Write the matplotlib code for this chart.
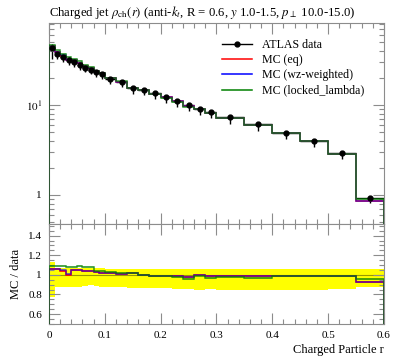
import matplotlib
matplotlib.use("Agg")
import matplotlib.pyplot as plt
from matplotlib.ticker import MultipleLocator, FixedLocator, FuncFormatter, LogLocator, NullFormatter
from matplotlib.lines import Line2D
import numpy as np

plt.rcParams['font.family'] = ['Liberation Serif', 'DejaVu Serif']
plt.rcParams['mathtext.fontset'] = 'stix'

# bin edges of charged particle r
edges = [0.0, 0.01, 0.02, 0.03, 0.04, 0.05, 0.06, 0.07, 0.08, 0.09, 0.10,
         0.12, 0.14, 0.16, 0.18, 0.20, 0.22, 0.24, 0.26, 0.28, 0.30,
         0.35, 0.40, 0.45, 0.50, 0.55, 0.60]

# ATLAS data, rho_ch(r)
data_vals = [42.5, 37.0, 34.0, 31.5, 30.0, 28.0, 26.0, 24.5, 23.0, 22.0,
             19.5, 18.0, 15.3, 14.7, 13.5, 12.2, 11.1, 10.0, 9.0, 8.3,
             7.3, 6.1, 4.9, 4.0, 2.9, 0.93]
# relative errors (up / down)
err_up = [0.13, 0.07, 0.07, 0.07, 0.07, 0.07, 0.07, 0.07, 0.07, 0.07,
          0.06, 0.06, 0.06, 0.06, 0.06, 0.06, 0.06, 0.06, 0.06, 0.06,
          0.06, 0.06, 0.06, 0.06, 0.06, 0.06]
err_dn = [0.23, 0.12, 0.12, 0.12, 0.12, 0.12, 0.11, 0.10, 0.11, 0.12,
          0.12, 0.12, 0.13, 0.13, 0.13, 0.13, 0.14, 0.14, 0.15, 0.14,
          0.15, 0.15, 0.15, 0.15, 0.14, 0.12]

# MC / data ratios
ratio_eq = [1.06, 1.06, 1.04, 1.00, 1.053, 1.053, 1.043, 1.043, 1.027, 1.02,
            1.017, 1.01, 1.02, 1.0, 0.987, 0.993, 0.987, 0.977, 1.0, 0.987,
            0.987, 0.987, 0.993, 0.993, 0.983, 0.927]
ratio_wz = [1.06, 1.06, 1.05, 1.01, 1.053, 1.053, 1.043, 1.043, 1.027, 1.02,
            1.017, 1.01, 1.02, 1.0, 0.987, 0.993, 0.987, 0.977, 1.0, 0.987,
            0.987, 0.987, 0.993, 0.993, 0.983, 0.927]
ratio_locked = [1.093, 1.09, 1.09, 1.083, 1.077, 1.093, 1.077, 1.077, 1.043, 1.037,
                1.027, 1.017, 1.017, 1.0, 0.983, 0.983, 0.977, 0.96, 0.993, 0.97,
                0.977, 0.97, 0.987, 0.993, 0.987, 0.96]

labels = ['ATLAS data', 'MC (eq)', 'MC (wz-weighted)', 'MC (locked_lambda)']

edges = np.array(edges)
data_vals = np.array(data_vals)
centers = 0.5 * (edges[:-1] + edges[1:])
halfw = 0.5 * np.diff(edges)

fig = plt.figure(figsize=(3.97, 3.58), dpi=100)
ax = fig.add_axes([0.1234, 0.3743, 0.8438, 0.5615])
rax = fig.add_axes([0.1234, 0.095, 0.8438, 0.2793], sharex=ax)

grey = '#8c8c8c'


def step(a, vals, color, alpha=1.0, band=0.02):
    vals = np.asarray(vals)
    a.fill_between(edges, np.append(vals * (1 - band), vals[-1] * (1 - band)),
                   np.append(vals * (1 + band), vals[-1] * (1 + band)),
                   step='post', color=color, alpha=0.2, lw=0, zorder=2)
    a.stairs(vals, edges, color=color, lw=1.1, alpha=alpha, zorder=3)


mc = [(ratio_eq, 'red', 1.0), (ratio_wz, 'blue', 0.6), (ratio_locked, 'green', 0.8)]

# main panel
ax.errorbar(centers, data_vals, xerr=halfw,
            yerr=[data_vals * np.array(err_dn), data_vals * np.array(err_up)],
            fmt='none', ecolor='black', lw=1.0, capsize=0, zorder=1)
for r, c, al in mc:
    step(ax, np.array(r) * data_vals, c, al)
ax.plot(centers, data_vals, 'o', color='black', ms=3.5, zorder=4)

ax.set_yscale('log')
ax.set_ylim(0.476, 81.5)
ax.set_xlim(0, 0.6)
ax.yaxis.set_major_locator(FixedLocator([1, 10]))
ax.yaxis.set_major_formatter(FuncFormatter(lambda v, p: '1' if v == 1 else r'$10^{1}$'))
ax.yaxis.set_minor_locator(LogLocator(base=10, subs=np.arange(2, 10)))
ax.yaxis.set_minor_formatter(NullFormatter())
ax.tick_params(axis='x', labelbottom=False)
ax.set_title(r'Charged jet $\rho_{\rm ch}(r)$ (anti-$k_t$, R = 0.6, $y$ 1.0-1.5, $p_\perp$ 10.0-15.0)',
             fontsize=9.2, loc='left', pad=5)

handles = [Line2D([], [], color='black', marker='o', ms=3.5, lw=1.0),
           Line2D([], [], color='red', lw=1.1),
           Line2D([], [], color='blue', lw=1.1),
           Line2D([], [], color='green', lw=1.1)]
ax.legend(handles, labels, loc='upper right', bbox_to_anchor=(0.975, 0.975), frameon=False,
          fontsize=8.6, handlelength=2.5, handletextpad=0.9, labelspacing=0.28)

# ratio panel
rax.fill_between(edges, np.append(1 - np.array(err_dn), 1 - err_dn[-1]),
                 np.append(1 + np.array(err_up), 1 + err_up[-1]),
                 step='post', color='yellow', lw=0, zorder=1)
rax.axhline(1.0, color='black', lw=0.8, alpha=0.4, zorder=1.5)
for r, c, al in mc:
    step(rax, r, c, al, band=0.01)
rax.set_ylim(0.498, 1.519)
rax.set_xlim(0, 0.6)
rax.yaxis.set_major_locator(MultipleLocator(0.2))
rax.yaxis.set_minor_locator(MultipleLocator(0.05))
rax.yaxis.set_major_formatter(FuncFormatter(lambda v, p: '1' if abs(v - 1) < 1e-6 else f'{v:.1f}'))
rax.xaxis.set_major_locator(MultipleLocator(0.1))
rax.xaxis.set_minor_locator(MultipleLocator(0.02))
rax.xaxis.set_major_formatter(FuncFormatter(lambda v, p: '0' if abs(v) < 1e-9 else f'{v:.1f}'))
rax.set_ylabel('MC / data', fontsize=9)
rax.set_xlabel('Charged Particle r', fontsize=9, loc='right', labelpad=3)

for a in (ax, rax):
    a.tick_params(which='both', direction='in', top=True, right=True, colors='black',
                  labelsize=8, width=0.8, pad=5)
    a.tick_params(which='major', length=7.7, color=grey)
    a.tick_params(which='minor', length=3.4, color=grey)
    for s in a.spines.values():
        s.set_color(grey)
        s.set_linewidth(0.8)

fig.savefig('out.png', dpi=100)
